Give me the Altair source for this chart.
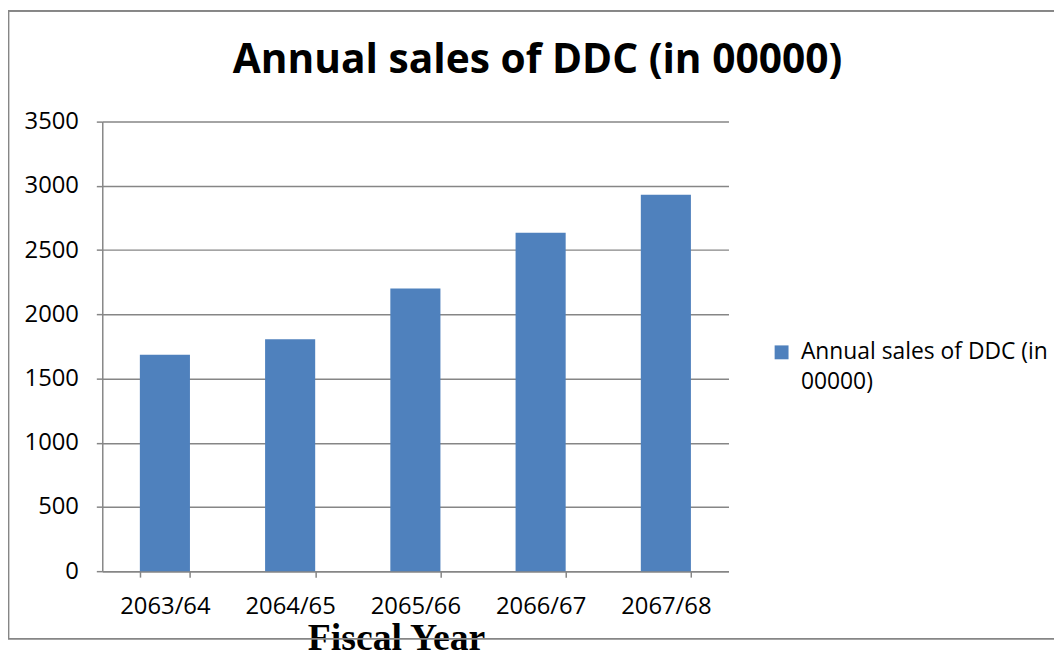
import altair as alt
import pandas as pd

years = ["2063/64", "2064/65", "2065/66", "2066/67", "2067/68"]
sales = [1685, 1805, 2200, 2635, 2930]
series = "Annual sales of DDC (in 00000)"
y_ticks = [0, 500, 1000, 1500, 2000, 2500, 3000, 3500]

df = pd.DataFrame({"year": years, "sales": sales, "series": [series] * len(years)})

W, H = 631, 453
GRID = "#868686"

bars = alt.Chart(df).mark_bar(color="#4F81BD").encode(
    x=alt.X("year:N", sort=years,
            scale=alt.Scale(paddingInner=0.6, paddingOuter=0.3),
            axis=alt.Axis(title="Fiscal Year", labelAngle=0, labelFont="Open Sans",
                          labelFontSize=24, labelColor="#000", labelPadding=18,
                          tickBand="extent", tickSize=6, tickColor=GRID, tickWidth=1.5,
                          domainColor=GRID, domainWidth=1.5,
                          titleFont="Liberation Serif", titleFontSize=38,
                          titleFontWeight="bold", titleColor="#000",
                          titleX=296, titleY=79, titleBaseline="alphabetic")),
    y=alt.Y("sales:Q", scale=alt.Scale(domain=[0, 3500], nice=False),
            axis=alt.Axis(title=None, values=y_ticks, format="d", labelFont="Open Sans",
                          labelFontSize=24, labelColor="#000", labelPadding=18,
                          tickSize=6, tickColor=GRID, tickWidth=1.5,
                          domainColor=GRID, domainWidth=1.5,
                          grid=True, gridColor=GRID, gridWidth=1.5)),
    color=alt.Color("series:N", scale=alt.Scale(range=["#4F81BD"]),
                    legend=alt.Legend(title=None, orient="none", legendX=673, legendY=221,
                                      symbolType="square", symbolSize=196,
                                      symbolStrokeWidth=0, labelFont="Open Sans",
                                      labelFontSize=23, labelColor="#000", labelOffset=8,
                                      labelLimit=400, labelBaseline="middle",
                                      labelExpr="[slice(datum.label,0,23), slice(datum.label,24)]")),
)

border = alt.Chart(df).mark_rect(fill=None, stroke=GRID, strokeWidth=1.2).encode(
    x=alt.value(-94.5), x2=alt.value(1000), y=alt.value(-111.5), y2=alt.value(521)
)

chart = alt.layer(border, bars).properties(
    width=W, height=H,
    title=alt.TitleParams(series, font="Open Sans", fontSize=41, fontWeight="bold",
                          color="#000", anchor="middle", frame="group", dx=123,
                          baseline="alphabetic", offset=-104.5),
    autosize=alt.AutoSizeParams(type="none"),
    padding={"left": 95, "top": 112, "right": 328, "bottom": 84},
).configure(style={"guide-label": {"lineHeight": 30}}).configure_view(stroke=None)

chart.save("out.html", embed_options={"renderer": "svg", "actions": False})
